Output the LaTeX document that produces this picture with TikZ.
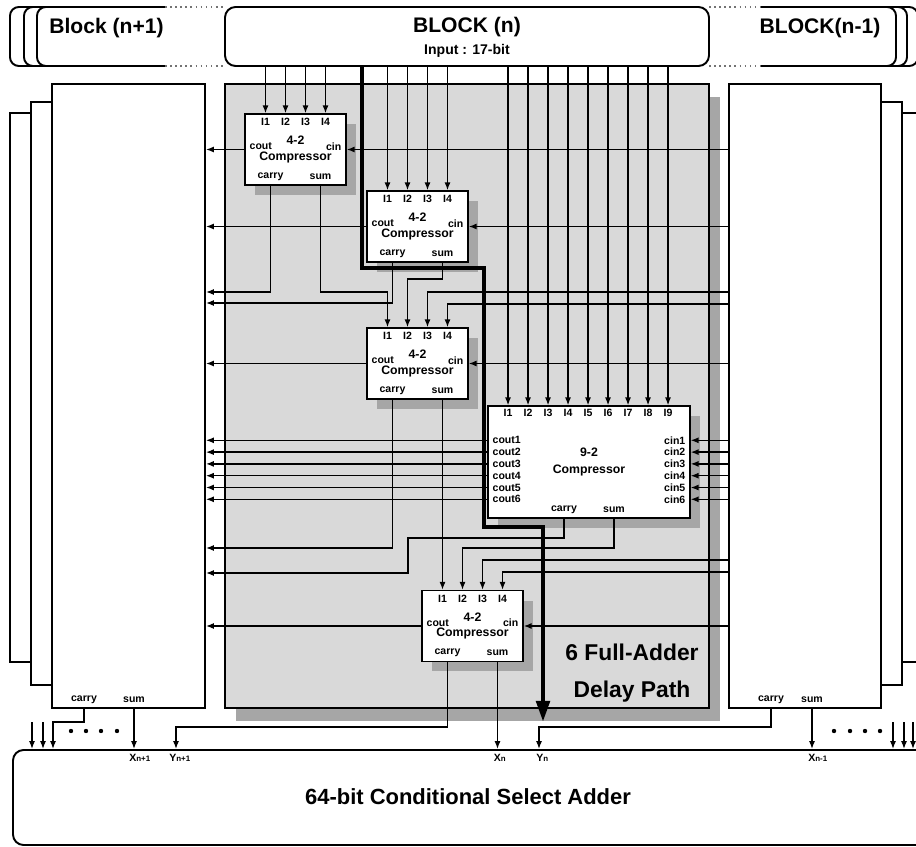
\documentclass[tikz,border=0pt]{standalone}
\usepackage{fontspec}
\setmainfont{Liberation Sans}
\usetikzlibrary{arrows.meta, calc, fit, shadows}

\newcommand{\bitsub}[1]{{\fontsize{4.5}{4.5}\selectfont #1}}

\begin{document}
\begin{tikzpicture}[
        x=0.02cm, y=-0.02cm,
        every node/.style={font=\bfseries},
        blk/.style={draw, line width=1.1pt, fill=white, inner sep=0pt},
        core/.style={
            draw, line width=1.6pt, fill=black!15, inner sep=0pt,
            drop shadow={shadow xshift=0.22cm, shadow yshift=-0.26cm, fill=black!35, opacity=1}
        },
        comp/.style={
            draw, line width=0.8pt, fill=white, inner sep=0pt,
            minimum width=2.02cm, minimum height=1.42cm,
            align=center, font=\fontsize{7}{9}\selectfont\bfseries,
            drop shadow={shadow xshift=0.2cm, shadow yshift=-0.2cm, fill=black!35, opacity=1}
        },
        lbl/.style={inner sep=0pt, font=\fontsize{6}{6}\selectfont\bfseries},
        head/.style={inner sep=0pt, font=\fontsize{12}{12}\selectfont\bfseries},
        arr/.style={-{Latex[length=4.5pt, width=3.4pt]}, line width=0.7pt},
        dpath/.style={-{Triangle[length=12pt, width=7.5pt]}, line width=2.6pt},
        dots/.style={line width=0.9pt, dotted, black!55}
    ]
    \useasboundingbox (0,0) rectangle (916,847);

    % compressor area
    \node[core, fit={(225,84) (709,708)}] (core) {};

    % neighbour blocks
    \draw[blk] (10,113) rectangle (120,662);
    \draw[blk] (31,102) rectangle (120,685);
    \node[blk, fit={(52,84) (205,708)}] (lblk) {};
    \draw[blk] (800,113) rectangle (925,662);
    \draw[blk] (800,102) rectangle (902,685);
    \node[blk, fit={(729,84) (881,708)}] (rblk) {};

    \foreach \xl in {10,24,37}
        \draw[blk, rounded corners=5pt] (165,7) -| (\xl,66) -- (165,66);
    \foreach \xr in {918,907,896}
        \draw[blk, rounded corners=5pt] (760,7) -| (\xr,66) -- (760,66);
    \draw[dots] (165,7) -- (225,7) (165,66) -- (225,66);
    \draw[dots] (709,7) -- (760,7) (709,66) -- (760,66);
    \node[blk, rounded corners=6pt, fit={(225,7) (709,66)}] (blkn) {};

    \node[head, anchor=west] (bnext) at (49,28) {Block (n+1)};
    \node[head] (bcur) at (467,27) {BLOCK (n)};
    \node[lbl, font=\fontsize{8}{8}\selectfont\bfseries] (input) at (467,51) {Input : 17-bit};
    \node[head] (bprev) at (820,28) {BLOCK(n-1)};

    % compressors
    \node[comp] (c1) at (295.5,149.5) {4-2\\Compressor};
    \node[comp] (c2) at (417.5,226.5) {4-2\\Compressor};
    \node[comp] (c3) at (417.5,363.5) {4-2\\Compressor};
    \node[comp] (c4) at (472.5,626) {4-2\\Compressor};
    \node[comp, minimum width=4.04cm, minimum height=2.24cm,
          font=\fontsize{7}{9.5}\selectfont\bfseries] (c9) at (589,462) {9-2\\Compressor};

    \foreach \cmp in {c1,c2,c3,c4} {
        \foreach \k/\dx in {1/-30,2/-10,3/10,4/30} {
            \coordinate (\cmp i\k) at ($(\cmp.north)+(\dx,0)$);
            \node[lbl] (\cmp l\k) at ($(\cmp i\k)+(0,9)$) {I\k};
        }
        \coordinate (\cmp c) at ($(\cmp.south)+(-25,0)$);
        \coordinate (\cmp s) at ($(\cmp.south)+(25,0)$);
        \node[lbl] (\cmp lc) at ($(\cmp c)+(0,-9)$) {carry};
        \node[lbl] (\cmp ls) at ($(\cmp s)+(0,-9)$) {sum};
        \node[lbl, anchor=west] (\cmp lo) at ($(\cmp.west)+(5,-3)$) {cout};
        \node[lbl, anchor=east] (\cmp ln) at ($(\cmp.east)+(-5,-3)$) {cin};
        \draw[arr] (\cmp.west) -- (\cmp.west -| lblk.east);
        \draw[arr] (\cmp.east -| rblk.west) -- (\cmp.east);
    }

    \foreach \k in {1,...,9} {
        \coordinate (c9i\k) at ($(c9.north)+(-101+20*\k,0)$);
        \node[lbl] (c9l\k) at ($(c9i\k)+(0,8)$) {I\k};
        \draw[arr] (c9i\k |- blkn.south) -- (c9i\k);
    }
    \foreach \k in {1,...,6} {
        \coordinate (c9o\k) at ($(c9.north west)+(0,23.2+11.8*\k)$);
        \coordinate (c9n\k) at ($(c9.north east)+(0,23.2+11.8*\k)$);
        \node[lbl, anchor=west] (c9lo\k) at ($(c9o\k)+(5,0)$) {cout\k};
        \node[lbl, anchor=east] (c9ln\k) at ($(c9n\k)+(-5,0)$) {cin\k};
        \draw[arr] (c9o\k) -- (c9o\k -| lblk.east);
        \draw[arr] (c9n\k -| rblk.west) -- (c9n\k);
    }
    \coordinate (c9c) at ($(c9.south)+(-25,0)$);
    \coordinate (c9s) at ($(c9.south)+(25,0)$);
    \node[lbl] (c9lc) at ($(c9c)+(0,-9)$) {carry};
    \node[lbl] (c9ls) at ($(c9s)+(0,-9)$) {sum};

    % inputs from block (n)
    \foreach \cmp in {c1,c2}
        \foreach \k in {1,...,4}
            \draw[arr] (\cmp i\k |- blkn.south) -- (\cmp i\k);

    % carry / sum wiring
    \draw[arr] (c1c) |- (lblk.east |- 0,292);
    \draw[arr] (c1s) |- (c3i1 |- 0,292) -- (c3i1);
    \draw[arr] (c2c) |- (lblk.east |- 0,303);
    \draw[arr] (c2s) |- (c3i2 |- 0,279) -- (c3i2);
    \draw[arr] (rblk.west |- 0,292) -| (c3i3);
    \draw[arr] (rblk.west |- 0,304) -| (c3i4);
    \draw[arr] (c3c) |- (lblk.east |- 0,548);
    \draw[arr] (c3s) -- (c4i1);
    \draw[arr] (c9c) |- (408,538) |- (lblk.east |- 0,573);
    \draw[arr] (c9s) |- (c4i2 |- 0,548) -- (c4i2);
    \draw[arr] (rblk.west |- 0,560) -| (c4i3);
    \draw[arr] (rblk.west |- 0,572) -| (c4i4);

    % adder
    \node[blk, rounded corners=6pt, fit={(13,750) (935,845)}] (adder) {};
    \node[head, font=\fontsize{12.5}{12.5}\selectfont\bfseries] (addtxt) at (468,797)
        {64-bit Conditional Select Adder};

    \coordinate (lc) at (lblk.south -| 84,0);
    \coordinate (ls) at (lblk.south -| 134,0);
    \coordinate (rc) at (rblk.south -| 771,0);
    \coordinate (rs) at (rblk.south -| 812,0);
    \node[lbl] (lblc) at ($(lc)+(0,-9)$) {carry};
    \node[lbl] (lbls) at ($(ls)+(0,-9)$) {sum};
    \node[lbl] (rblc) at ($(rc)+(0,-9)$) {carry};
    \node[lbl] (rbls) at ($(rs)+(0,-9)$) {sum};

    \draw[arr] (lc) |- (53,722) -- (adder.north -| 53,0);
    \draw[arr] (ls) -- (ls |- adder.north);
    \draw[arr] (c4c) |- (176,727) -- (adder.north -| 176,0);
    \draw[arr] (c4s) -- (c4s |- adder.north);
    \draw[arr] (rc) |- (539,727) -- (adder.north -| 539,0);
    \draw[arr] (rs) -- (rs |- adder.north);
    \foreach \xa in {32,43,893,904,913}
        \draw[arr] (\xa,722) -- (adder.north -| \xa,0);
    \foreach \xd in {71,86,101,117,834,850,865,880}
        \fill (\xd,731) circle (2.2);

    \node[lbl, anchor=north west] (xn1) at ($(ls |- adder.north)+(-5,5)$) {X\bitsub{n+1}};
    \node[lbl, anchor=north west] (yn1) at ($(adder.north -| 176,0)+(-7,5)$) {Y\bitsub{n+1}};
    \node[lbl, anchor=north west] (xn) at ($(c4s |- adder.north)+(-4,5)$) {X\bitsub{n}};
    \node[lbl, anchor=north west] (yn) at ($(adder.north -| 539,0)+(-3,5)$) {Y\bitsub{n}};
    \node[lbl, anchor=north west] (xn0) at ($(rs |- adder.north)+(-4,5)$) {X\bitsub{n-1}};

    % critical path
    \coordinate (dstart) at (blkn.south -| 362,0);
    \coordinate (dend) at (543,722);
    \draw[dpath] (dstart) |- (484,268) |- (543,527) -- (dend);
    \node[align=center, font=\fontsize{13}{21}\selectfont\bfseries] (dtxt) at (632,673)
        {6 Full-Adder\\Delay Path};
\end{tikzpicture}
\end{document}
